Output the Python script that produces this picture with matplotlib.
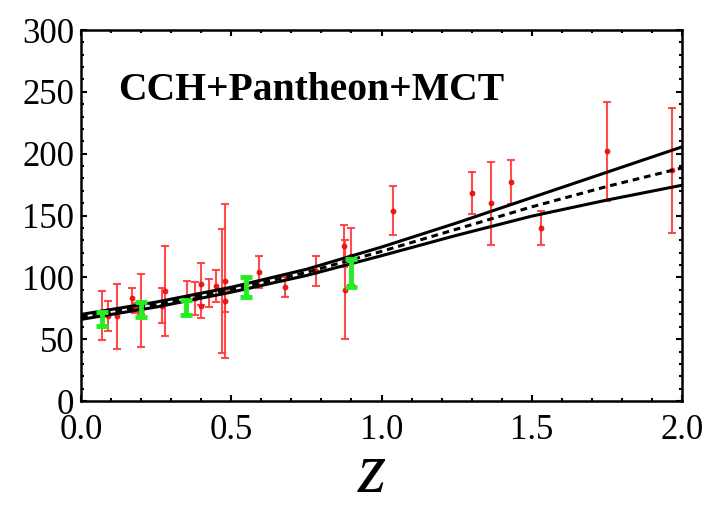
import numpy as np
import matplotlib
matplotlib.use("Agg")
import matplotlib.pyplot as plt
from matplotlib.ticker import MultipleLocator, FormatStrFormatter

# Cosmic chronometer H(z) measurements
cc_z = [0.07, 0.09, 0.12, 0.17, 0.179, 0.199, 0.2, 0.27, 0.28, 0.352, 0.3802,
        0.4, 0.4004, 0.4247, 0.4497, 0.47, 0.4783, 0.48, 0.593, 0.68, 0.781,
        0.875, 0.88, 0.9, 1.037, 1.3, 1.363, 1.43, 1.53, 1.75, 1.965]
cc_H = [69, 69, 68.6, 83, 75, 75, 72.9, 77, 88.8, 83, 83,
        95, 77, 87.1, 92.8, 89, 80.9, 97, 104, 92, 105,
        125, 90, 117, 154, 168, 160, 177, 140, 202, 186.5]
cc_err = [19.6, 12, 26.2, 8, 4, 5, 29.6, 14, 36.6, 14, 13.5,
          17, 10.2, 11.2, 12.9, 50, 9, 62, 13, 8, 12,
          17, 40, 23, 20, 17, 33.6, 18, 14, 40, 50.4]

# Pantheon-derived expansion-rate points
sn_z = [0.07, 0.2, 0.35, 0.55, 0.9]
sn_H = [66.4, 74.2, 75.6, 92.2, 103.2]
sn_err = [5.8, 6.1, 6.0, 7.8, 11.3]

# Reconstructed H(z): best fit and 1-sigma bounds
fit_z = [0.0, 0.25, 0.5, 0.75, 1.0, 1.25, 1.5, 1.75, 2.0]
fit_upper = [70.0, 80.0, 92.0, 106.5, 124.5, 144.0, 164.5, 185.0, 205.5]
fit_best = [68.0, 78.0, 90.0, 104.0, 121.0, 139.0, 157.0, 173.5, 188.5]
fit_lower = [66.0, 76.0, 88.0, 101.5, 117.5, 134.0, 149.5, 162.5, 174.5]

label_text = "CCH+Pantheon+MCT"

plt.rcParams["font.family"] = ["Liberation Serif", "DejaVu Serif"]

fig = plt.figure(figsize=(7.12, 5.08), dpi=100)
ax = fig.add_axes([0.1138, 0.2106, 0.8441, 0.7303])

ax.errorbar(cc_z, cc_H, yerr=cc_err, fmt="o", color="#ff2020", ecolor="#ff3a3a",
            elinewidth=1.5, capsize=3, capthick=1.5, markersize=3.2,
            markerfacecolor="#e81010", markeredgecolor="#e81010", alpha=0.9, zorder=2)

ax.plot(fit_z, fit_upper, color="black", lw=2.2, zorder=3)
ax.plot(fit_z, fit_lower, color="black", lw=2.2, zorder=3)
ax.plot(fit_z, fit_best, color="black", lw=2.2, ls=(0, (2.2, 1.6)), zorder=3)

ax.errorbar(sn_z, sn_H, yerr=sn_err, fmt="none", ecolor="#22ee22",
            elinewidth=3.5, capsize=4, capthick=3.5, zorder=4)

ax.text(0.123, 251, label_text, fontsize=28.5, fontweight="bold",
        ha="left", va="center", color="black")

ax.set_xlim(0, 2.0)
ax.set_ylim(0, 300)
ax.xaxis.set_major_locator(MultipleLocator(0.5))
ax.xaxis.set_minor_locator(MultipleLocator(0.1))
ax.yaxis.set_major_locator(MultipleLocator(50))
ax.yaxis.set_minor_locator(MultipleLocator(10))
ax.xaxis.set_major_formatter(FormatStrFormatter("%.1f"))

ax.tick_params(which="both", direction="in", top=True, right=True,
               labelsize=25, colors="black", width=1.5)
ax.tick_params(which="major", length=4.5)
ax.tick_params(which="minor", length=2.5)
ax.tick_params(axis="x", pad=9)
ax.tick_params(axis="y", pad=5)
for s in ax.spines.values():
    s.set_linewidth(1.8)

# axis variable below the frame
fig.text(372 / 712, 1 - 492 / 508, "z", fontsize=52, style="italic",
         family="Liberation Serif", ha="center", va="baseline")

fig.savefig("out.png", dpi=100)
